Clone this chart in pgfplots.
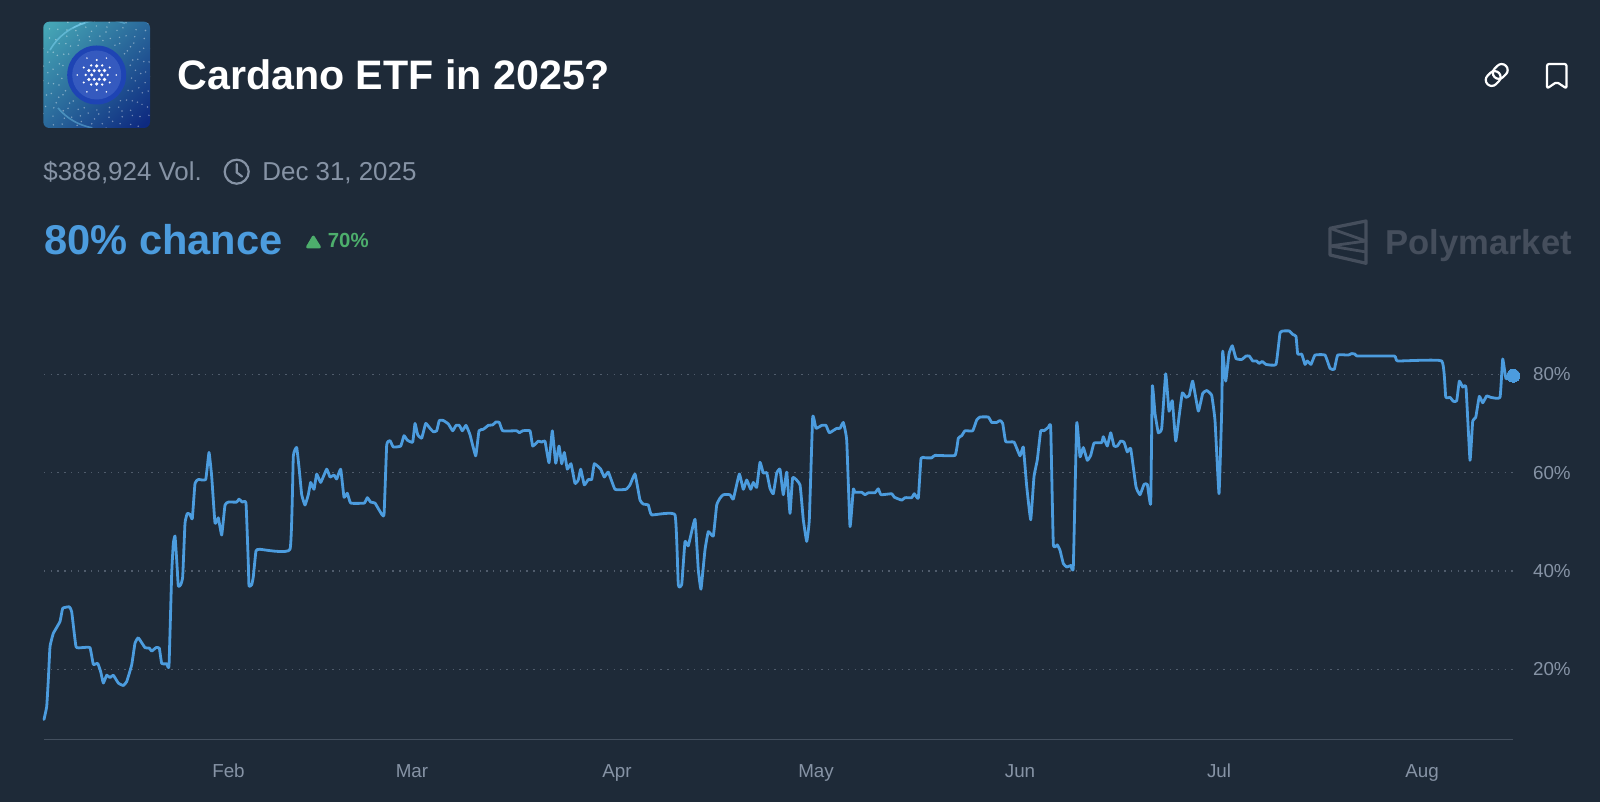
\documentclass[border=0pt]{standalone}
\usepackage{pgfplots}
\pgfplotsset{compat=1.18}
\usepackage{pgfplotstable}
\usepackage{fontspec}
\setmainfont{Liberation Sans}
\usetikzlibrary{calc}
\definecolor{bg}{HTML}{1E2A38}
\definecolor{ln}{HTML}{4C9CDE}
\definecolor{gt}{HTML}{8693A5}
\definecolor{grd}{HTML}{505C6C}
\definecolor{axl}{HTML}{434F5E}
\definecolor{wm}{HTML}{454E5C}
\definecolor{grn}{HTML}{4DAE6C}
\definecolor{logoA}{HTML}{45A5B5}
\definecolor{logoB}{HTML}{0E2A80}
\definecolor{logoC}{HTML}{1E44B4}
\definecolor{logoD}{HTML}{3E62C4}
\newcommand{\fs}[1]{\fontsize{#1pt}{#1pt}\selectfont}
\pgfplotstableread{
x y
44 9.8
46.7 12.4
48.3 17.8
50 24.6
53.3 27.3
60 29.7
62.7 32.4
69.3 32.7
71.7 31.7
76 24.6
81.7 24.4
90 24.4
93.3 21
97.7 21.2
100.7 19.5
103.3 17.2
106.7 18.8
110 18.3
113.3 18.8
118.3 17.2
123.3 16.7
126.7 17.5
131.7 20.9
135 25.3
138.3 26.4
145 24.4
149.3 24.3
151.7 23.7
156 24.4
159.3 24.3
161.7 21.2
166.7 21.1
169 20.7
171.7 39.5
173.3 45.6
175 47.1
176.7 42.2
178.3 36.9
180.7 37.2
182.7 38.8
185 49.7
187.3 51.7
190 51.5
192.3 50.6
195 57.8
198.3 58.6
205.7 58.6
209 64.1
211.7 59.2
215 49.7
218.3 50.8
221.7 47.3
225 53.4
228.3 54
236.7 54
239 54.6
242.3 54
246 53.8
248.3 41.6
249 36.9
251.7 37.2
253.3 38.8
256 44.1
260 44.4
290 44.4
293.3 63.3
296.7 65.1
299.3 60.5
301.7 55.5
305 53.4
308.3 55.5
310.7 58
314 56.6
316.7 59.7
320.7 58
326.7 60.7
330 59.1
334 59.5
336.7 58.7
340.7 60.7
344 55
347.3 55.8
350.7 53.8
364.3 53.8
367.3 54.9
370.7 54
375 53.8
380 52.1
384 51.4
386.7 65.6
390 66.5
393.3 65.2
400.7 65.4
404 67.5
407.3 66.6
412.7 66.2
415 70
417.7 67.7
421.7 67
425.7 70
430 69
433.3 68.3
436.7 68.5
439.3 70.6
443.3 70.6
448.3 69.9
452.7 68.5
456 69.6
459.3 69.6
462.3 68.5
466 69.6
470 67.7
475.7 63.4
479 68.5
483.3 68.8
488.3 69.6
492.7 69.7
496 70.3
499.3 70.2
502.7 68.5
516.7 68.5
519.3 68.1
522.7 68.5
530 68.5
532.7 65.4
538.3 66.4
541.7 66.2
545 66.4
549 62
552.3 68.5
555.7 61.9
559 65.4
561.7 61.8
564.3 64.1
567.3 60.7
571 61.8
575 57.8
578.3 58.5
580.7 60.7
584.3 57.5
588.3 58.6
591.7 58.6
594.3 61.8
600.7 60.7
604.3 59.1
608.3 60.1
615 56.6
626 56.6
630 57.5
635 59.7
640 54.4
643.3 53.6
648.3 53.4
651.7 51.4
675 51.4
678.3 37.2
681.7 37.2
685 46
688.3 45.1
695 50.5
698.3 40.2
701 36.3
705 44.3
708.3 48
713.3 47.1
716.7 53.4
720 54.8
723.3 55.5
730 55.5
733.3 54.6
739.3 59.7
743.3 56.6
746.7 58.5
750.7 56.6
753.3 58
756.7 57
760 62.1
763.3 59.9
766.7 60
770 56.8
773.3 55.7
776.7 59.9
780 60.7
783.3 55.5
786.7 60.1
790 51.7
792.7 59
800 57.5
803.3 50.4
806.7 46
809.3 50.4
812.7 71.3
816 69
821.7 69.6
826 69.6
829.3 68.1
836.7 69
840 69
843.3 70.2
846.7 66.6
850 49
853.3 56.6
855 56
861.7 56
865 55.5
868.3 55.9
875 55.9
878.3 56.7
881 55.5
891.7 55.7
894.3 55
901.7 54.4
905 54.9
911.7 54.9
914.3 55.7
918.3 54.8
921 62.9
925 63
931.7 63
935 63.5
955 63.5
958.3 67
961.7 67.5
965 68.5
972.7 68.5
976.7 70.7
980 71.3
988.3 71.3
991.7 70.2
996.7 70.2
1000 70.6
1002.7 70
1005.7 66.3
1014 66.2
1020 63.4
1023.3 65.2
1026.7 57.2
1030.7 50.4
1034 59.2
1037.3 62.6
1040.7 68.5
1044 68.5
1048.3 69.2
1050.7 69.2
1053.3 45.5
1057.3 45.3
1060 44.2
1063.3 41.5
1066.7 40.8
1070.7 41.1
1073.3 40.8
1076.7 70.1
1080 63.2
1083.3 65.1
1087.3 62.5
1090.7 63.5
1094 66
1101.7 66.1
1103.3 67.3
1107.3 65.4
1110.7 68.1
1114 65.4
1117.3 65.4
1120.7 66.4
1124 66.2
1127.3 64.2
1130.7 64.9
1136 57.1
1140 55.5
1144 57.6
1147.3 57.6
1150.7 53.7
1152.3 77.6
1155 72
1158.3 68.1
1161.7 69
1165.7 80.1
1169 72.5
1172.3 74.6
1175.7 66.4
1179 71.3
1182.3 76.2
1186 75.3
1189.3 75.7
1192.7 78.6
1198.3 72.5
1202.7 76.1
1206.7 76.7
1211.7 75.7
1215 70.6
1219 55.7
1221.7 72.7
1222.7 84.7
1225.7 78.6
1229 84.2
1232.3 85.8
1236 83.2
1241.7 83
1246 83.7
1249.3 83.7
1252.7 82.7
1256.7 82.7
1259 82.2
1262.3 82.6
1266 82
1276 82
1280 88.4
1283.3 88.8
1289.3 88.8
1292.7 88.1
1296 87.7
1297.7 84.1
1301.7 84.1
1305 82
1307.3 82.7
1311 82
1315 83.9
1325 83.9
1330 81.2
1334.3 81
1337.7 83.9
1348.3 83.9
1351.7 84.2
1355 84.1
1357.3 83.7
1394.3 83.7
1397.7 82.7
1441.7 82.7
1445.7 75.4
1450 75.3
1453.3 74.5
1456.7 74.6
1459.3 78.6
1462.7 77.4
1466 77.3
1470 62.5
1472.7 70.5
1475.7 71.2
1479.3 75.5
1482.7 74.2
1486.7 75.6
1490.7 75.3
1500 75.3
1502.7 83.1
1506 79.1
1513.3 79.7
}\series
\begin{document}
\begin{tikzpicture}
\path[use as bounding box,fill=bg] (0,0) rectangle (800pt,401pt);
\begin{scope}[x=0.5pt,y=-0.5pt,shift={(0pt,401pt)}]
  % thumbnail
  \begin{scope}
    \clip[rounded corners=3pt] (43.3,21.7) rectangle (150,128);
    \shade[left color=logoA, right color=logoB, shading angle=45] (28,6) rectangle (165,144);
    \foreach \r/\n/\o in {35/17/5,39/23/40,44/19/17,49/29/71,54/23/33,60/31/9,66/27/51,73/37/23}
      \foreach \i in {1,...,\n}
        \fill[white,opacity=0.4] ({96.7+\r*cos(360*\i/\n+\o)},{75+\r*sin(360*\i/\n+\o)}) circle (0.42pt);
    \draw[cyan!50!white,opacity=.5,line width=.8pt] (50,50) arc[start angle=210,end angle=255,radius=58];
    \draw[cyan!50!white,opacity=.4,line width=.8pt] (73,28) arc[start angle=240,end angle=290,radius=62];
    \draw[cyan!50!white,opacity=.4,line width=.8pt] (58,108) arc[start angle=140,end angle=100,radius=58];
  \end{scope}
  \fill[logoC] (96.7,75) circle[radius=29.5];
  \fill[logoD,opacity=.75] (96.7,75) circle[radius=24.5];
  \foreach \r/\n/\s/\o in {5/6/0.85/0,9/6/0.9/30,11/6/0.65/0,15/6/0.55/30,19.5/6/0.42/0}
    \foreach \i in {1,...,\n}
      \fill[white] ({96.7+\r*cos(360*\i/\n+\o)},{75+\r*sin(360*\i/\n+\o)}) circle (\s pt);
  % header text
  \node[anchor=base west,inner sep=0,text=white] at (177,90) {\fs{20.6}\bfseries Cardano ETF in 2025?};
  \node[anchor=base west,inner sep=0,text=gt] at (43,180.7) {\fs{12.95}\$388,924 Vol.};
  \draw[gt,line width=1.1pt] (236.7,171.7) circle[radius=12];
  \draw[gt,line width=1.1pt,line cap=round,line join=round] (236.7,164) -- (236.7,172.5) -- (242,176.5);
  \node[anchor=base west,inner sep=0,text=gt] at (262,180.7) {\fs{12.95}Dec 31, 2025};
  \node[anchor=base west,inner sep=0,text=ln] at (44,255) {\fs{20.8}\bfseries 80\% chance};
  \fill[grn,line join=round,draw=grn,line width=1.4pt] (307.5,247) -- (313.3,237) -- (319.5,247) -- cycle;
  \node[anchor=base west,inner sep=0,text=grn] at (327.5,248) {\fs{10.2}\bfseries 70\%};
  % watermark
  \draw[wm,line width=1.6pt,line join=round] (1330,228.3) -- (1366,221) -- (1366,263.3) -- (1330,255) -- cycle;
  \draw[wm,line width=1.4pt,line join=round] (1330,228.3) -- (1366,241) -- (1330,246) (1330,246) -- (1366,252);
  \node[anchor=base west,inner sep=0,text=wm] at (1385,254.3) {\fs{17.3}\bfseries Polymarket};
  % icons
  \begin{scope}[shift={(1496.7,75)},rotate=45]
    \draw[white,line width=1.1pt,rounded corners=3pt] (-13,-6) rectangle (3,6);
    \draw[white,line width=1.1pt,rounded corners=3pt] (-3,-6) rectangle (13,6);
  \end{scope}
  \draw[white,line width=1.1pt,line join=round,rounded corners=1pt] (1547,64) -- (1566.5,64) -- (1566.5,88.5) -- (1556.7,82) -- (1547,88.5) -- cycle;
\end{scope}
\begin{axis}[
  at={(22pt,31pt)},anchor=south west,
  scale only axis,width=734.5pt,height=220pt,
  xmin=44,xmax=1513,
  ymin=5.62,ymax=95.1,
  clip=false,
  axis x line=bottom,axis y line=right,
  axis line style={-},
  x axis line style={draw=axl,line width=.5pt},
  y axis line style={draw=none},
  major tick length=0pt,
  ytick={20,40,60,80},yticklabels={20\%,40\%,60\%,80\%},
  xtick={228.5,412,617,816,1020,1219,1422},
  xticklabels={Feb,Mar,Apr,May,Jun,Jul,Aug},
  ymajorgrids,
  grid style={grd,line width=.6pt,dash pattern=on .7pt off 2.65pt},
  ticklabel style={text=gt,font=\fs{9.4}},
  yticklabel style={anchor=west,xshift=6.5pt},
  xticklabel style={anchor=base,yshift=-19pt},
]
\addplot[ln,line width=1.4pt,line join=round,line cap=round,smooth,tension=0.2] table[x=x,y=y] {\series};
\addplot[only marks,mark=*,mark size=3.25pt,mark options={fill=ln,draw=ln,line width=0pt}] coordinates {(1513.3,79.7)};
\end{axis}
\end{tikzpicture}
\end{document}
